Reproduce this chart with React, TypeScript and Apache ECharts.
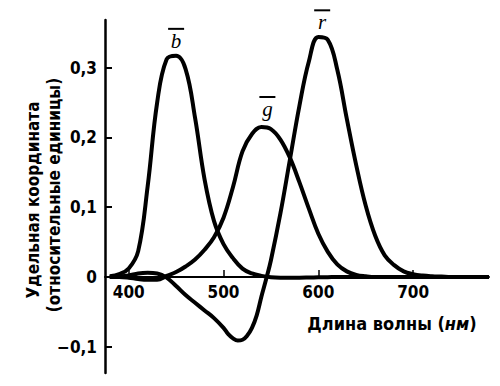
import React, { useEffect, useRef } from "react";
import * as echarts from "echarts";

const WAVELENGTHS = [380, 390, 400, 410, 420, 430, 440, 450, 460, 470, 480, 490, 500, 510, 520, 530, 540, 550, 560, 570, 580, 590, 600, 610, 620, 630, 640, 650, 660, 670, 680, 690, 700, 710, 720, 730, 740, 750, 760, 770, 780];
const R_WAVELENGTHS = [380, 390, 400, 410, 420, 430, 440, 450, 460, 470, 480, 490, 500, 505, 510, 515, 520, 525, 530, 535, 540, 545, 550, 560, 570, 580, 590, 600, 610, 620, 630, 640, 650, 660, 670, 680, 690, 700, 710, 720, 730, 740, 750, 760, 770, 780];
const R_BAR = [0, 0.0005, 0.002, 0.005, 0.006, 0.005, -0.001, -0.013, -0.026, -0.037, -0.048, -0.059, -0.073, -0.082, -0.088, -0.091, -0.09, -0.084, -0.073, -0.055, -0.028, -0.003, 0.024, 0.091, 0.168, 0.245, 0.309, 0.344, 0.34, 0.297, 0.227, 0.16, 0.102, 0.059, 0.031, 0.017, 0.008, 0.004, 0.002, 0.001, 0.0005, 0, 0, 0, 0, 0];
const G_BAR = [0, 0, -0.001, -0.003, -0.004, -0.004, 0.0015, 0.007, 0.015, 0.025, 0.039, 0.057, 0.085, 0.129, 0.18, 0.205, 0.215, 0.212, 0.197, 0.171, 0.136, 0.098, 0.062, 0.036, 0.018, 0.008, 0.003, 0.001, 0, 0, 0, 0, 0, 0, 0, 0, 0, 0, 0, 0, 0];
const B_BAR = [0.001, 0.004, 0.012, 0.037, 0.13, 0.25, 0.312, 0.317, 0.298, 0.228, 0.14, 0.08, 0.047, 0.027, 0.012, 0.005, 0.0015, -0.0005, -0.001, -0.001, -0.001, -0.0008, -0.0005, -0.0003, 0, 0, 0, 0, 0, 0, 0, 0, 0, 0, 0, 0, 0, 0, 0, 0, 0];

const SERIES_NAMES = ["b", "g", "r"];
const PEAKS: [number, number][] = [[450, 0.317], [541, 0.215], [603, 0.345]];

const X_TICKS = [400, 500, 600, 700];
const Y_TICKS = [-0.1, 0, 0.1, 0.2, 0.3];

const X_TITLE = "Длина волны";
const X_UNIT = "нм";
const Y_TITLE_1 = "Удельная координата";
const Y_TITLE_2 = "(относительные единицы)";

const SANS = "'DejaVu Sans Condensed', 'DejaVu Sans', sans-serif";
const SERIF = "'Liberation Serif', 'DejaVu Serif', serif";

const Y_MIN = -0.1377;
const Y_MAX = 0.3684;
const GRID_TOP = 20;
const GRID_HEIGHT = 353;

export default function App() {
  const ref = useRef<HTMLDivElement>(null);

  useEffect(() => {
    document.body.style.margin = "0";
    const chart = echarts.init(ref.current!, null, { renderer: "svg" });

    const sources = [
      WAVELENGTHS.map((w, i) => [w, B_BAR[i]]),
      WAVELENGTHS.map((w, i) => [w, G_BAR[i]]),
      R_WAVELENGTHS.map((w, i) => [w, R_BAR[i]]),
    ];
    const labelOffsets: [number, number][] = [[0, -17], [5, -20], [1, -16]];

    const series = SERIES_NAMES.map((name, k) => ({
      type: "line",
      name,
      data: sources[k],
      showSymbol: false,
      smooth: 0.4,
      lineStyle: { color: "#000", width: 4 },
      itemStyle: { color: "#000" },
      markPoint: {
        symbol: "circle",
        symbolSize: 0,
        data: [
          {
            coord: PEAKS[k],
            label: {
              show: true,
              position: "inside",
              offset: labelOffsets[k],
              formatter: `{o| }\n{t|${name}}`,
              rich: {
                o: { width: 16, height: 2, backgroundColor: "#000", lineHeight: 4, fontSize: 2 },
                t: { fontFamily: SERIF, fontStyle: "italic", fontSize: 21, lineHeight: 20, color: "#000" },
              },
            },
          },
        ],
      },
    }));

    const fmtY = (v: number) => {
      if (Math.abs(v) < 1e-9) return "0";
      return (v < 0 ? "−" : "") + Math.abs(v).toFixed(1).replace(".", ",");
    };

    // distance of the zero line above the grid bottom
    const zeroOffset = (GRID_HEIGHT * (0 - Y_MIN)) / (Y_MAX - Y_MIN);

    chart.setOption({
      animation: false,
      backgroundColor: "#fff",
      grid: { left: 105, top: GRID_TOP, width: 384, height: GRID_HEIGHT, containLabel: false, outerBoundsMode: "none" },
      xAxis: {
        type: "value",
        min: 375,
        max: 780,
        offset: -zeroOffset,
        splitLine: { show: false },
        axisLine: { onZero: false, lineStyle: { color: "#000", width: 2 } },
        axisTick: { inside: true, length: 7, customValues: X_TICKS, lineStyle: { color: "#000", width: 1.5 } },
        axisLabel: { customValues: X_TICKS, margin: 7, color: "#000", fontFamily: SANS, fontWeight: "bold", fontSize: 17 },
      },
      yAxis: {
        type: "value",
        min: Y_MIN,
        max: Y_MAX,
        splitLine: { show: false },
        axisLine: { onZero: false, lineStyle: { color: "#000", width: 2.5 } },
        axisTick: { inside: true, length: 7, customValues: Y_TICKS, lineStyle: { color: "#000", width: 2 } },
        axisLabel: { customValues: Y_TICKS, margin: 8, color: "#000", fontFamily: SANS, fontWeight: "bold", fontSize: 17, formatter: fmtY },
      },
      series,
      graphic: [
        {
          type: "text",
          x: 392,
          y: 323,
          style: {
            text: `${X_TITLE} ({i|${X_UNIT}})`,
            fill: "#000",
            font: `bold 18px ${SANS}`,
            align: "center",
            verticalAlign: "middle",
            rich: { i: { fontStyle: "italic", fontWeight: "bold", fontFamily: SANS, fontSize: 18 } },
          },
        },
        {
          type: "text",
          x: 33,
          y: 200,
          rotation: Math.PI / 2,
          style: { text: Y_TITLE_1, fill: "#000", font: `bold 17px ${SANS}`, align: "center", verticalAlign: "middle" },
        },
        {
          type: "text",
          x: 54,
          y: 195,
          rotation: Math.PI / 2,
          style: { text: Y_TITLE_2, fill: "#000", font: `bold 17px ${SANS}`, align: "center", verticalAlign: "middle" },
        },
      ],
    });

    return () => chart.dispose();
  }, []);

  return <div ref={ref} style={{ width: 500, height: 386 }} />;
}
